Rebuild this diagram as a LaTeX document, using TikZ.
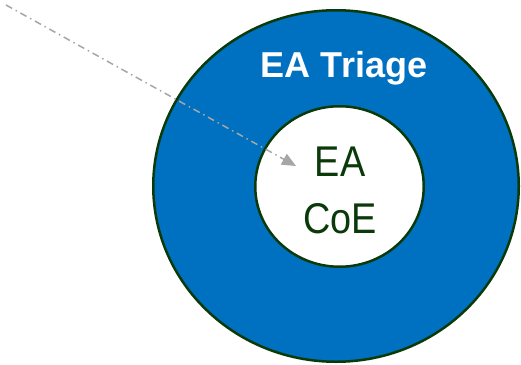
\documentclass[tikz,border=0pt]{standalone}
\usepackage{fontspec}
\setmainfont{Liberation Sans}
\newfontfamily\narrowfont[FakeStretch=0.88]{Liberation Sans}
\usepackage{tikz}
\usetikzlibrary{shapes.geometric,arrows.meta}
\definecolor{triageblue}{HTML}{0070C0}
\definecolor{coegreen}{HTML}{0A3A0A}
\definecolor{arrowgray}{HTML}{A6A6A6}

\begin{document}
\begin{tikzpicture}[x=1pt,y=-1pt,
  ring/.style={ellipse, draw=coegreen, line width=2.5pt, inner sep=0pt},
  coetext/.style={anchor=base, text=coegreen, font=\narrowfont\fontsize{43}{48}\selectfont},
  pointer/.style={draw=arrowgray, line width=1.5pt, dash pattern=on 7pt off 4pt on 1.5pt off 4pt,
    -{Triangle[length=14pt,width=12pt,fill=arrowgray]}}]
  \useasboundingbox (0,0) rectangle (521,364);
  \node[ring, fill=triageblue, minimum width=365.5pt, minimum height=351.5pt] (triage) at (336,186) {};
  \node[ring, fill=white, minimum width=168.5pt, minimum height=160.5pt] (coe) at (339.5,186.5) {};
  \node[anchor=base, text=white, font=\fontsize{36}{40}\selectfont\bfseries] (triagelbl) at (344,77) {EA Triage};
  \node[coetext] (ealbl) at (340,176) {EA};
  \node[coetext] (coelbl) at (340,233) {CoE};
  % pointer into the centre
  \coordinate (from) at (6,5);
  \coordinate (tip) at (296,166);
  \draw[pointer] (from) -- (tip);
\end{tikzpicture}
\end{document}
